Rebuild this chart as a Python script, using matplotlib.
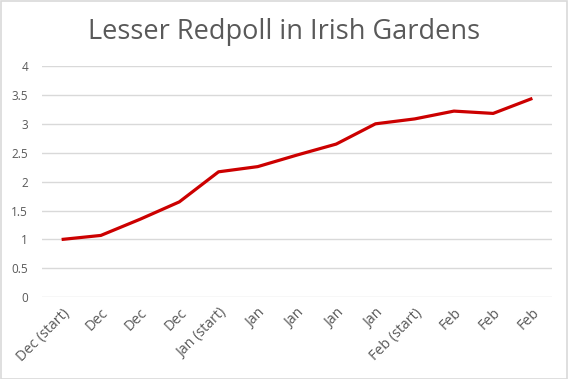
import matplotlib
matplotlib.use("Agg")
import matplotlib.pyplot as plt
from matplotlib.patches import Rectangle

categories = ["Dec (start)", "Dec", "Dec", "Dec", "Jan (start)", "Jan", "Jan", "Jan", "Jan",
              "Feb (start)", "Feb", "Feb", "Feb"]
values = [1.0, 1.07, 1.35, 1.65, 2.17, 2.26, 2.46, 2.65, 3.0, 3.085, 3.22, 3.18, 3.44]
yticks = [0, 0.5, 1, 1.5, 2, 2.5, 3, 3.5, 4]
ytick_labels = ["0", "0.5", "1", "1.5", "2", "2.5", "3", "3.5", "4"]
title = "Lesser Redpoll in Irish Gardens"

plt.rcParams['font.family'] = ['Open Sans', 'DejaVu Sans']

fig = plt.figure(figsize=(5.68, 3.79), dpi=100)
ax = fig.add_axes([42/568, 1 - 297.3/379, (552-42)/568, (297.3-66)/379])

x = list(range(len(categories)))
ax.plot(x, values, color="#cc0000", linewidth=2.3, solid_capstyle="butt", solid_joinstyle="round", zorder=3)

ax.set_xlim(-0.5, len(categories) - 0.5)
ax.set_ylim(0, 4)
ax.set_yticks(yticks)
ax.set_yticklabels(ytick_labels, color="#595959", fontsize=8.5)
ax.set_xticks(x)
ax.set_xticklabels(categories, rotation=45, ha="right", rotation_mode="anchor",
                   color="#595959", fontsize=10.3)
ax.tick_params(axis="y", length=0, pad=10)
ax.tick_params(axis="x", length=0, pad=6)
ax.grid(axis="y", color="#d9d9d9", linewidth=1)
ax.set_axisbelow(True)
for s in ax.spines.values():
    s.set_visible(False)

fig.text(0.5, 1 - 32/379, title, ha="center", va="center", fontsize=19.5, color="#595959")

fig.patches.append(Rectangle((0.5/568, 0.5/379), 1 - 1.5/568, 1 - 1.5/379, transform=fig.transFigure,
                             fill=False, edgecolor="#d9d9d9", linewidth=1.2))

fig.savefig("out.png", dpi=100)
